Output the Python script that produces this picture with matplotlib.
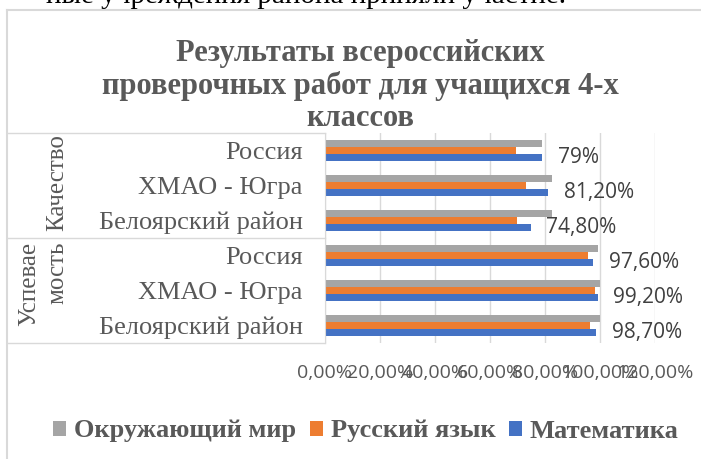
import numpy as np
import matplotlib.pyplot as plt
from matplotlib.lines import Line2D

# данные
categories = ['Россия', 'ХМАО - Югра', 'Белоярский район',
              'Россия', 'ХМАО - Югра', 'Белоярский район']
groups = ['Качество', 'Успевае\nмость']
okr_mir = [0.79, 0.825, 0.825, 0.991, 1.0, 1.0]
rus_yaz = [0.695, 0.73, 0.697, 0.955, 0.983, 0.964]
matem = [0.79, 0.812, 0.748, 0.976, 0.992, 0.987]
matem_labels = ['79%', '81,20%', '74,80%', '97,60%', '99,20%', '98,70%']
series_names = ['Окружающий мир', 'Русский язык', 'Математика']
colors = ['#A5A5A5', '#ED7D31', '#4472C4']
xticks = [0, 0.2, 0.4, 0.6, 0.8, 1.0, 1.2]

W, H = 701, 459
serif = 'Liberation Serif'
sans = 'Open Sans'
txt = '#595959'
line_c = '#D9D9D9'


def fx(px):
    return px / W


def fy(py):
    return 1 - py / H


fig = plt.figure(figsize=(W / 100, H / 100), dpi=100)
ax = fig.add_axes([fx(325), fy(343), fx(655) - fx(325), fy(133) - fy(343)])

y = np.arange(len(categories))[::-1]
h = 0.2
ax.barh(y + h, okr_mir, height=h, color=colors[0], label=series_names[0])
ax.barh(y, rus_yaz, height=h, color=colors[1], label=series_names[1])
mb = ax.barh(y - h, matem, height=h, color=colors[2], label=series_names[2])
ax.bar_label(mb, labels=matem_labels, padding=11, fontsize=15,
             family=sans, color='#404040')

ax.set_xlim(0, 1.2)
ax.set_ylim(-0.5, len(categories) - 0.5)
ax.set_xticks(xticks)
ax.set_xticklabels([f'{t * 100:.2f}%'.replace('.', ',') for t in xticks],
                   family=sans, fontsize=14, color=txt)
ax.set_yticks(y)
ax.set_yticklabels(categories, family=serif, fontsize=19, color=txt)
ax.tick_params(axis='x', length=0, pad=15)
ax.tick_params(axis='y', length=0, pad=16)
ax.xaxis.grid(True, color=line_c, lw=1)
ax.set_axisbelow(True)
for s in ['top', 'right', 'bottom']:
    ax.spines[s].set_visible(False)
ax.spines['left'].set_color(line_c)

# рамка таблицы категорий
for py in [133, 238, 343]:
    fig.add_artist(Line2D([fx(7), fx(325)], [fy(py), fy(py)], color=line_c, lw=1))
# рамка диаграммы
fig.add_artist(Line2D([fx(7), fx(7)], [fy(10), 0], color=line_c, lw=1.5))
fig.add_artist(Line2D([fx(7), 1], [fy(10), fy(10)], color=line_c, lw=1.5))

fig.text(fx(57), fy(134), groups[0], rotation=90, ha='center', va='top',
         family=serif, fontsize=18, color=txt)
fig.text(fx(43), fy(242), groups[1], rotation=90, ha='center', va='top',
         family=serif, fontsize=18, color=txt, multialignment='right',
         linespacing=1.35)

fig.text(fx(360), fy(86), 'Результаты всероссийских\nпроверочных работ для учащихся 4-х\nклассов',
         ha='center', va='center', family=serif, fontsize=22, weight='bold',
         color=txt, linespacing=1.15)

# обрезанная строка документа сверху
fig.text(fx(566), fy(3), 'ные учреждения района приняли участие.', ha='right',
         va='baseline', family=serif, fontsize=21, color='black')

fig.legend(loc='center', bbox_to_anchor=(fx(366), fy(431)), ncol=3, frameon=False,
           prop={'family': serif, 'size': 19, 'weight': 'bold'},
           labelcolor=txt, handlelength=0.5, handleheight=0.5,
           handletextpad=0.3, columnspacing=0.5)

fig.savefig('out.png', dpi=100)
